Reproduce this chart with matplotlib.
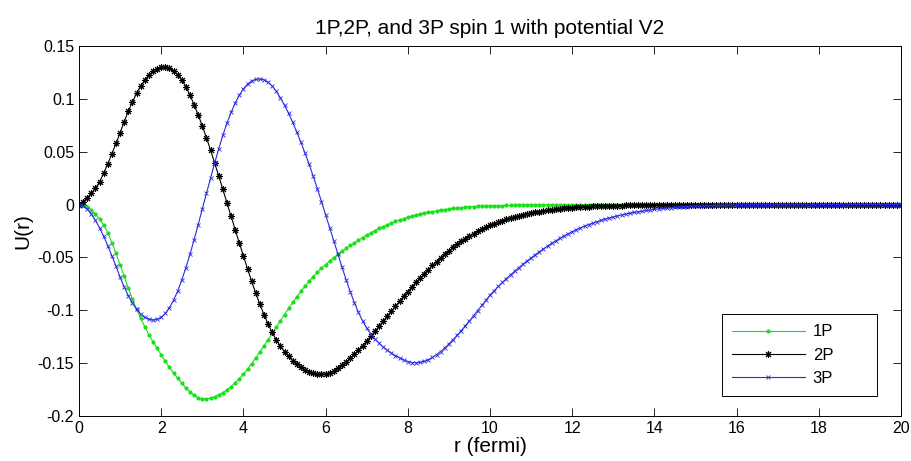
import numpy as np
import matplotlib
matplotlib.use('Agg')
import matplotlib.pyplot as plt

# radial grid (fermi), 0.1 step as in the original run
r_fermi = np.linspace(0, 20, 201)

# U(r), one value per 0.1 fermi
u_1p = [
    0.0, -0.0005, -0.0022, -0.0050, -0.0088, -0.0135, -0.0195, -0.0265, -0.0360, -0.0462,   # 0.0-0.9
    -0.0570, -0.0680, -0.0790, -0.0895, -0.0990, -0.1075, -0.1155, -0.1230, -0.1297, -0.1360,   # 1.0-1.9
    -0.1422, -0.1482, -0.1540, -0.1593, -0.1642, -0.1688, -0.1735, -0.1772, -0.1805, -0.1828,   # 2.0-2.9
    -0.1838, -0.1837, -0.1830, -0.1818, -0.1800, -0.1778, -0.1752, -0.1722, -0.1687, -0.1648,   # 3.0-3.9
    -0.1605, -0.1558, -0.1505, -0.1450, -0.1393, -0.1335, -0.1277, -0.1219, -0.1160, -0.1100,   # 4.0-4.9
    -0.1040, -0.0982, -0.0926, -0.0872, -0.0820, -0.0771, -0.0725, -0.0682, -0.0641, -0.0603,   # 5.0-5.9
    -0.0567, -0.0533, -0.0501, -0.0471, -0.0442, -0.0414, -0.0387, -0.0361, -0.0336, -0.0312,   # 6.0-6.9
    -0.0289, -0.0267, -0.0246, -0.0226, -0.0208, -0.0191, -0.0175, -0.0160, -0.0146, -0.0133,   # 7.0-7.9
    -0.0120, -0.0109, -0.0099, -0.0090, -0.0081, -0.0073, -0.0066, -0.0059, -0.0053, -0.0047,   # 8.0-8.9
    -0.0042, -0.0037, -0.0033, -0.0029, -0.0026, -0.0023, -0.0020, -0.0018, -0.0016, -0.0014,   # 9.0-9.9
    -0.0012, -0.0011, -0.0010, -0.0009, -0.0008, -0.0007, -0.0006, -0.0005, -0.0005, -0.0004,   # 10.0-10.9
    -0.0004, -0.0003, -0.0003, -0.0003, -0.0002, -0.0002, -0.0002, -0.0002, -0.0001, -0.0001,   # 11.0-11.9
    -0.0001, -0.0001, -0.0001, -0.0001, -0.0001, -0.0001, -0.0001, -0.0001, -0.0001, -0.0001,   # 12.0-12.9
    -0.0001, 0.0, 0.0, 0.0, 0.0, 0.0, 0.0, 0.0, 0.0, 0.0,   # 13.0-13.9
    0.0, 0.0, 0.0, 0.0, 0.0, 0.0, 0.0, 0.0, 0.0, 0.0,   # 14.0-14.9
    0.0, 0.0, 0.0, 0.0, 0.0, 0.0, 0.0, 0.0, 0.0, 0.0,   # 15.0-15.9
    0.0, 0.0, 0.0, 0.0, 0.0, 0.0, 0.0, 0.0, 0.0, 0.0,   # 16.0-16.9
    0.0, 0.0, 0.0, 0.0, 0.0, 0.0, 0.0, 0.0, 0.0, 0.0,   # 17.0-17.9
    0.0, 0.0, 0.0, 0.0, 0.0, 0.0, 0.0, 0.0, 0.0, 0.0,   # 18.0-18.9
    0.0, 0.0, 0.0, 0.0, 0.0, 0.0, 0.0, 0.0, 0.0, 0.0,   # 19.0-19.9
    0.0,                                                   # 20.0
]

u_2p = [
    0.0, 0.0028, 0.0063, 0.0105, 0.0155, 0.0215, 0.0295, 0.0385, 0.0480, 0.0578,   # 0.0-0.9
    0.0678, 0.0785, 0.0882, 0.0972, 0.1052, 0.1120, 0.1178, 0.1225, 0.1261, 0.1285,   # 1.0-1.9
    0.1298, 0.1300, 0.1289, 0.1265, 0.1228, 0.1178, 0.1116, 0.1035, 0.0945, 0.0848,   # 2.0-2.9
    0.0744, 0.0633, 0.0516, 0.0395, 0.0271, 0.0145, 0.0018, -0.0110, -0.0237, -0.0363,   # 3.0-3.9
    -0.0487, -0.0608, -0.0725, -0.0837, -0.0943, -0.1040, -0.1130, -0.1210, -0.1280, -0.1340,   # 4.0-4.9
    -0.1392, -0.1437, -0.1476, -0.1509, -0.1537, -0.1561, -0.1580, -0.1594, -0.1603, -0.1607,   # 5.0-5.9
    -0.1602, -0.1591, -0.1573, -0.1550, -0.1522, -0.1490, -0.1455, -0.1417, -0.1377, -0.1335,   # 6.0-6.9
    -0.1291, -0.1246, -0.1200, -0.1153, -0.1105, -0.1057, -0.1009, -0.0961, -0.0914, -0.0868,   # 7.0-7.9
    -0.0823, -0.0779, -0.0736, -0.0695, -0.0655, -0.0615, -0.0576, -0.0539, -0.0503, -0.0469,   # 8.0-8.9
    -0.0437, -0.0406, -0.0377, -0.0349, -0.0323, -0.0298, -0.0275, -0.0253, -0.0233, -0.0214,   # 9.0-9.9
    -0.0196, -0.0180, -0.0165, -0.0151, -0.0138, -0.0126, -0.0115, -0.0105, -0.0096, -0.0088,   # 10.0-10.9
    -0.0080, -0.0073, -0.0066, -0.0060, -0.0055, -0.0050, -0.0045, -0.0041, -0.0037, -0.0033,   # 11.0-11.9
    -0.0030, -0.0027, -0.0025, -0.0022, -0.0020, -0.0018, -0.0016, -0.0015, -0.0013, -0.0012,   # 12.0-12.9
    -0.0011, -0.0010, -0.0009, -0.0008, -0.0007, -0.0007, -0.0006, -0.0005, -0.0005, -0.0004,   # 13.0-13.9
    -0.0004, -0.0003, -0.0003, -0.0003, -0.0003, -0.0003, -0.0002, -0.0002, -0.0002, -0.0002,   # 14.0-14.9
    -0.0002, -0.0002, -0.0002, -0.0002, -0.0002, -0.0002, -0.0001, -0.0001, -0.0001, -0.0001,   # 15.0-15.9
    -0.0001, -0.0001, -0.0001, -0.0001, -0.0001, -0.0001, -0.0001, -0.0001, -0.0001, -0.0001,   # 16.0-16.9
    -0.0001, 0.0, 0.0, 0.0, 0.0, 0.0, 0.0, 0.0, 0.0, 0.0,   # 17.0-17.9
    0.0, 0.0, 0.0, 0.0, 0.0, 0.0, 0.0, 0.0, 0.0, 0.0,   # 18.0-18.9
    0.0, 0.0, 0.0, 0.0, 0.0, 0.0, 0.0, 0.0, 0.0, 0.0,   # 19.0-19.9
    0.0,                                                 # 20.0
]

u_3p = [
    0.0, -0.0012, -0.0043, -0.0090, -0.0150, -0.0220, -0.0300, -0.0390, -0.0485, -0.0582,   # 0.0-0.9
    -0.0688, -0.0780, -0.0862, -0.0932, -0.0990, -0.1035, -0.1066, -0.1085, -0.1092, -0.1087,   # 1.0-1.9
    -0.1068, -0.1030, -0.0975, -0.0905, -0.0820, -0.0715, -0.0598, -0.0470, -0.0333, -0.0190,   # 2.0-2.9
    -0.0040, 0.0105, 0.0250, 0.0392, 0.0528, 0.0655, 0.0770, 0.0872, 0.0960, 0.1035,   # 3.0-3.9
    0.1095, 0.1140, 0.1170, 0.1185, 0.1188, 0.1180, 0.1158, 0.1122, 0.1072, 0.1010,   # 4.0-4.9
    0.0940, 0.0862, 0.0777, 0.0685, 0.0588, 0.0486, 0.0380, 0.0268, 0.0150, 0.0028,   # 5.0-5.9
    -0.0095, -0.0220, -0.0345, -0.0470, -0.0593, -0.0712, -0.0825, -0.0928, -0.1020, -0.1100,   # 6.0-6.9
    -0.1168, -0.1225, -0.1272, -0.1312, -0.1347, -0.1378, -0.1405, -0.1429, -0.1450, -0.1470,   # 7.0-7.9
    -0.1485, -0.1495, -0.1497, -0.1493, -0.1483, -0.1467, -0.1446, -0.1420, -0.1390, -0.1356,   # 8.0-8.9
    -0.1319, -0.1279, -0.1237, -0.1193, -0.1147, -0.1100, -0.1052, -0.1003, -0.0954, -0.0905,   # 9.0-9.9
    -0.0857, -0.0815, -0.0775, -0.0737, -0.0700, -0.0664, -0.0630, -0.0597, -0.0565, -0.0534,   # 10.0-10.9
    -0.0504, -0.0475, -0.0447, -0.0419, -0.0392, -0.0366, -0.0342, -0.0319, -0.0297, -0.0276,   # 11.0-11.9
    -0.0256, -0.0237, -0.0220, -0.0204, -0.0189, -0.0175, -0.0162, -0.0150, -0.0138, -0.0127,   # 12.0-12.9
    -0.0117, -0.0107, -0.0098, -0.0090, -0.0082, -0.0075, -0.0068, -0.0062, -0.0056, -0.0051,   # 13.0-13.9
    -0.0046, -0.0041, -0.0037, -0.0033, -0.0030, -0.0027, -0.0024, -0.0021, -0.0019, -0.0017,   # 14.0-14.9
    -0.0015, -0.0013, -0.0012, -0.0010, -0.0009, -0.0008, -0.0007, -0.0006, -0.0005, -0.0005,   # 15.0-15.9
    -0.0004, -0.0004, -0.0003, -0.0003, -0.0003, -0.0003, -0.0002, -0.0002, -0.0002, -0.0002,   # 16.0-16.9
    -0.0002, -0.0001, -0.0001, -0.0001, -0.0001, -0.0001, -0.0001, -0.0001, -0.0001, -0.0001,   # 17.0-17.9
    -0.0001, 0.0, 0.0, 0.0, 0.0, 0.0, 0.0, 0.0, 0.0, 0.0,   # 18.0-18.9
    0.0, 0.0, 0.0, 0.0, 0.0, 0.0, 0.0, 0.0, 0.0, 0.0,   # 19.0-19.9
    0.0,                                                 # 20.0
]

x_ticks = [0, 2, 4, 6, 8, 10, 12, 14, 16, 18, 20]
y_ticks = [-0.2, -0.15, -0.1, -0.05, 0, 0.05, 0.1, 0.15]
y_tick_labels = ['-0.2', '-0.15', '-0.1', '-0.05', '0', '0.05', '0.1', '0.15']

plt.rcParams['font.family'] = ['Liberation Sans', 'DejaVu Sans']
plt.rcParams['axes.unicode_minus'] = False

fig = plt.figure(figsize=(9.12, 4.61), dpi=100)
ax = fig.add_axes([79 / 912, 45 / 461, 822 / 912, 370 / 461])

ax.plot(r_fermi, u_1p, color='#18e018', lw=0.8, marker='.', ms=4, label='1P')
ax.plot(r_fermi, u_2p, color='black', lw=0.8, marker=(8, 2, 0), ms=5, mew=0.75, label='2P')
ax.plot(r_fermi, u_3p, color='#2a2ae0', lw=0.8, marker='x', ms=3.5, mew=0.6, label='3P')

ax.set_xlim(0, 20)
ax.set_ylim(-0.2, 0.15)
ax.set_xticks(x_ticks)
ax.set_yticks(y_ticks)
ax.set_yticklabels(y_tick_labels)
ax.tick_params(direction='in', top=True, right=True, length=5.5, width=0.6, labelsize=11.5)
for s in ax.spines.values():
    s.set_linewidth(0.7)

ax.set_title('1P,2P, and 3P spin 1 with potential V2', fontsize=15, pad=9)
ax.set_xlabel('r (fermi)', fontsize=15, labelpad=1)
ax.set_ylabel('U(r)', fontsize=15, labelpad=4)

# legend box spans about x 722-877, y 314-396 px in the reference
leg = ax.legend(loc='lower left', bbox_to_anchor=(0.782, 0.054, 0.189, 0.222), mode='expand',
                borderaxespad=0, fontsize=12, fancybox=False, edgecolor='black', framealpha=1,
                handlelength=4.4, labelspacing=0.5, borderpad=0.6, handletextpad=0.45)
leg.get_frame().set_linewidth(0.7)

fig.savefig('out.png', dpi=100)
